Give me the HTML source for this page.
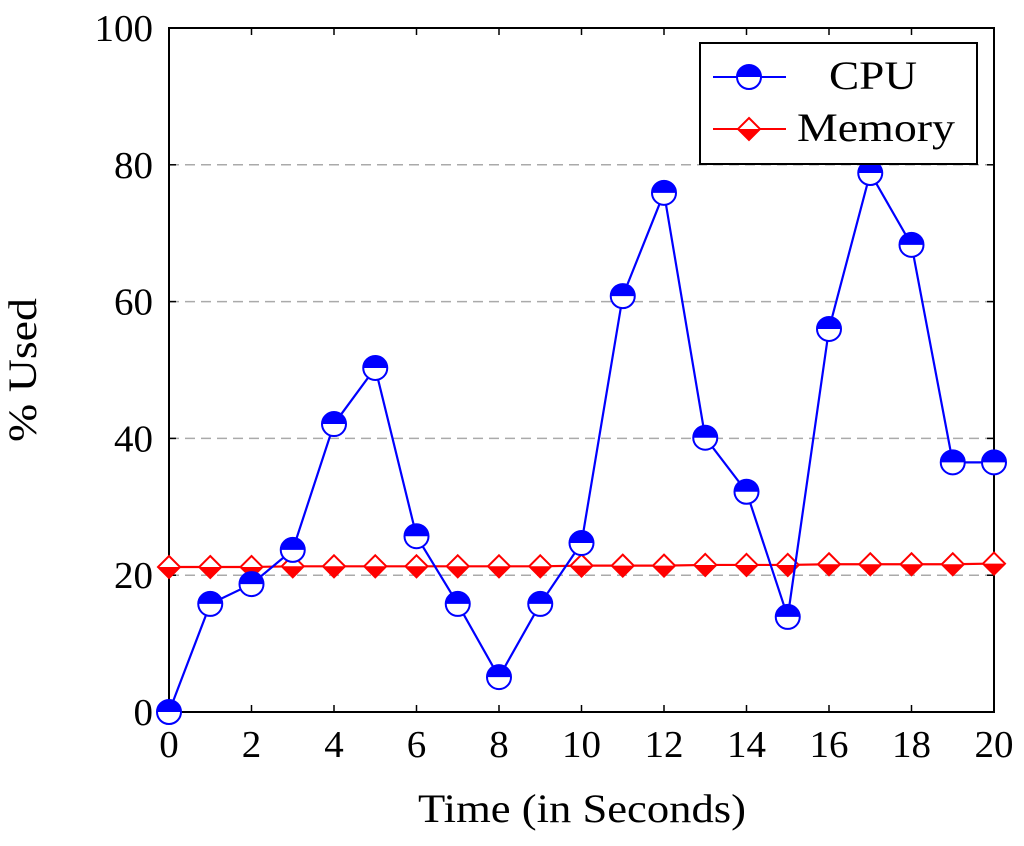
<!DOCTYPE html>
<html><head><meta charset="utf-8"><style>
body{margin:0;background:#fff}
svg text{font-family:"Liberation Serif",serif;fill:#000}
</style></head><body>
<svg id="chart" width="1024" height="841" xmlns="http://www.w3.org/2000/svg">
<g id="grid"></g>
<g id="axes"></g>
<g id="series"></g>
<text x="418" y="822" font-size="40" textLength="328" lengthAdjust="spacingAndGlyphs">Time (in Seconds)</text>
<text transform="translate(36,442) rotate(-90)" font-size="40" textLength="144" lengthAdjust="spacingAndGlyphs">% Used</text>
<g>
<rect x="700" y="43" width="277" height="121" fill="#fff" stroke="#000" stroke-width="2"/>
<g>
<line x1="713" y1="77" x2="786" y2="77" stroke="#00f" stroke-width="2"/>
<circle cx="749" cy="77" r="12" fill="#fff" stroke="#00f" stroke-width="2"/>
<path d="M737,77 A12,12 0 0 1 761,77 Z" fill="#00f"/>
<text x="829" y="89" font-size="40" textLength="88" lengthAdjust="spacingAndGlyphs">CPU</text>
</g>
<g>
<line x1="713" y1="129" x2="786" y2="129" stroke="#f00" stroke-width="2"/>
<path d="M749,118 L760,129 L749,140 L738,129 Z" fill="#fff" stroke="#f00" stroke-width="2"/>
<path d="M738,129 L760,129 L749,140 Z" fill="#f00"/>
<text x="797" y="141" font-size="40" textLength="158" lengthAdjust="spacingAndGlyphs">Memory</text>
</g>
</g>
</svg>
<script>
const xTicks=[0,2,4,6,8,10,12,14,16,18,20];
const yTicks=[0,20,40,60,80,100];
const times=[0,1,2,3,4,5,6,7,8,9,10,11,12,13,14,15,16,17,18,19,20];
const cpu=[0,15.8,18.7,23.7,42.1,50.3,25.7,15.8,5.1,15.8,24.7,60.8,75.9,40.1,32.2,13.9,56.0,78.8,68.3,36.5,36.5];
const memory=[21.2,21.2,21.2,21.3,21.3,21.3,21.3,21.3,21.3,21.3,21.4,21.4,21.4,21.5,21.5,21.5,21.6,21.6,21.6,21.6,21.7];
const X0=169,X1=994,Y0=712,Y1=28;
const sx=v=>X0+(v-0)/(20-0)*(X1-X0);
const sy=v=>Y0-(v-0)/(100-0)*(Y0-Y1);
const NS="http://www.w3.org/2000/svg";
function mk(tag,attrs,parent){const e=document.createElementNS(NS,tag);for(const k in attrs)e.setAttribute(k,attrs[k]);parent.appendChild(e);return e;}
const grid=document.getElementById('grid'),axes=document.getElementById('axes'),series=document.getElementById('series');
const cw=19.5;
yTicks.forEach(v=>{if(v>0&&v<100){const l=mk('line',{x1:X0,x2:X1,y1:sy(v),y2:sy(v),stroke:'#aaa','stroke-width':1.5,'stroke-dasharray':'10,6'},grid);

}
mk('line',{x1:X0,x2:X0+7,y1:sy(v),y2:sy(v),stroke:'#000','stroke-width':1.5},axes);
mk('line',{x1:X1,x2:X1-7,y1:sy(v),y2:sy(v),stroke:'#000','stroke-width':1.5},axes);
const s=String(v);
const t=mk('text',{x:X0-16,y:sy(v)+13,'font-size':38,'text-anchor':'end',textLength:s.length*cw,lengthAdjust:'spacingAndGlyphs'},axes);t.textContent=s;

});
xTicks.forEach(v=>{mk('line',{x1:sx(v),x2:sx(v),y1:Y0,y2:Y0-7,stroke:'#000','stroke-width':1.5},axes);
mk('line',{x1:sx(v),x2:sx(v),y1:Y1,y2:Y1+7,stroke:'#000','stroke-width':1.5},axes);
const s=String(v);
const t=mk('text',{x:sx(v),y:Y0+45,'font-size':38,'text-anchor':'middle',textLength:s.length*cw,lengthAdjust:'spacingAndGlyphs'},axes);t.textContent=s;

});
const fr=mk('rect',{x:X0,y:Y1,width:X1-X0,height:Y0-Y1,fill:'none',stroke:'#000','stroke-width':2},axes);


const ml=mk('polyline',{points:times.map((t,i)=>sx(t)+','+sy(memory[i])).join(' '),fill:'none',stroke:'#f00','stroke-width':2.2},series);


times.forEach((t,i)=>{const x=sx(t),y=sy(memory[i]),g=mk('g',{},series);


mk('path',{d:`M${x},${y-11} L${x+11},${y} L${x},${y+11} L${x-11},${y} Z`,fill:'#fff',stroke:'#f00','stroke-width':2},g);
mk('path',{d:`M${x-11},${y} L${x+11},${y} L${x},${y+11} Z`,fill:'#f00'},g);});
const cl=mk('polyline',{points:times.map((t,i)=>sx(t)+','+sy(cpu[i])).join(' '),fill:'none',stroke:'#00f','stroke-width':2.2},series);


times.forEach((t,i)=>{const x=sx(t),y=sy(cpu[i]),g=mk('g',{},series);


mk('circle',{cx:x,cy:y,r:12,fill:'#fff',stroke:'#00f','stroke-width':2},g);
mk('path',{d:`M${x-12},${y} A12,12 0 0 1 ${x+12},${y} Z`,fill:'#00f'},g);});
</script>
</body></html>
